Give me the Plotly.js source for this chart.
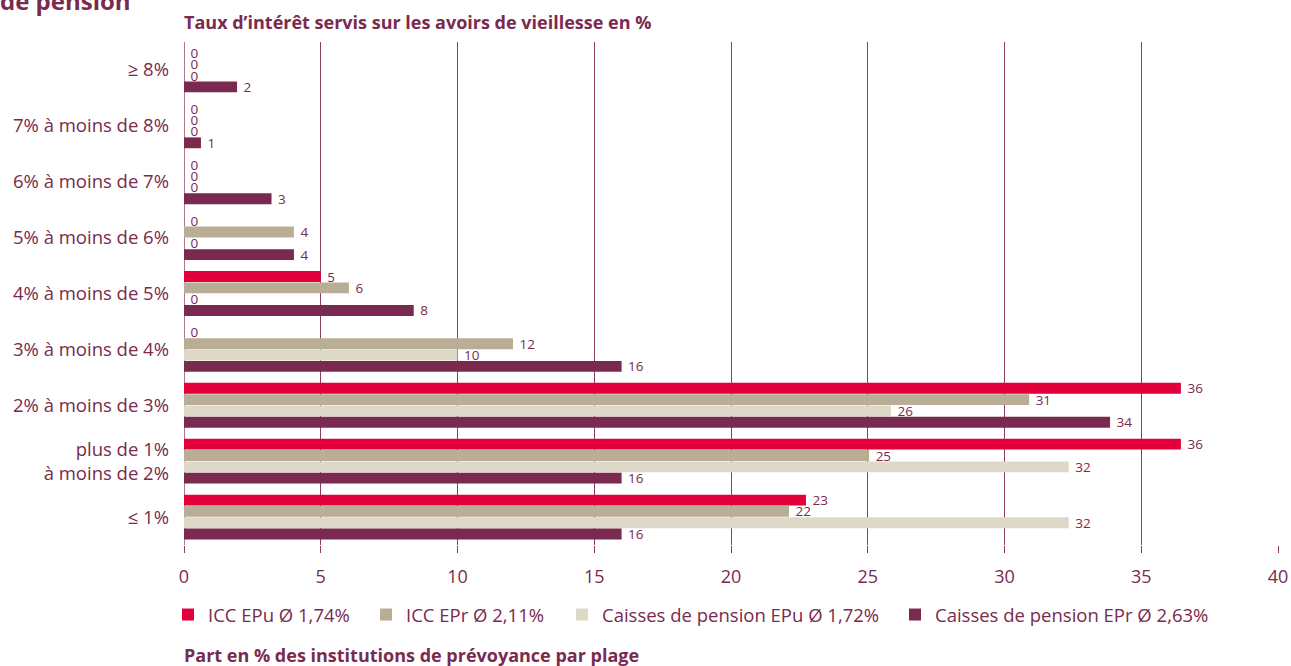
<!DOCTYPE html>
<html>
<head>
<meta charset="utf-8">
<script src="https://cdn.plot.ly/plotly-3.0.1.min.js"></script>
<style>html,body{margin:0;padding:0;background:#fff;}#chart{width:1291px;height:666px;}</style>
</head>
<body>
<div id="chart"></div>
<script>
const categories = ["≥ 8%", "7% à moins de 8%", "6% à moins de 7%", "5% à moins de 6%", "4% à moins de 5%", "3% à moins de 4%", "2% à moins de 3%", "plus de 1%<br>à moins de 2%", "≤ 1%"];
const seriesNames = ["ICC EPu Ø 1,74%", "ICC EPr Ø 2,11%", "Caisses de pension EPu Ø 1,72%", "Caisses de pension EPr Ø 2,63%"];
const iccEPu = [0, 0, 0, 0, 5.0, 0, 36.45, 36.45, 22.74];
const iccEPr = [0, 0, 0, 4.02, 6.03, 12.03, 30.9, 25.05, 22.12];
const cpEPu  = [0, 0, 0, 0, 0, 10.0, 25.85, 32.35, 32.35];
const cpEPr  = [1.94, 0.62, 3.2, 4.02, 8.4, 16.0, 33.86, 16.0, 16.0];
const xTicks = [0, 5, 10, 15, 20, 25, 30, 35, 40];
const colors = ["#e2003a", "#b9ad96", "#ddd8c8", "#7a2a4e"];
const textColor = "#7a2a4e";
const FONT = "Open Sans, sans-serif";

const plotLeft = 184, plotRight = 1278, plotTop = 42, plotBottom = 545;
const pw = plotRight - plotLeft, ph = plotBottom - plotTop;
const px = p => (p - plotLeft) / pw;
const py = p => (plotBottom - p) / ph;

// legend marker centre x positions (pixels)
const legendMarkerX = [188, 386, 582, 915];
const legendIds = ["legend", "legend2", "legend3", "legend4"];

const series = [iccEPu, iccEPr, cpEPu, cpEPr];
const traces = series.map((vals, i) => ({
  type: "bar",
  orientation: "h",
  name: seriesNames[i],
  legend: legendIds[i],
  y: categories,
  x: vals,
  marker: {color: colors[i], line: {width: 0}},
  texttemplate: "\u00a0%{x:.0f}",
  textposition: "outside",
  constraintext: "none",
  cliponaxis: false,
  textfont: {family: FONT, size: 13.5, color: textColor},
  hoverinfo: "x+y"
}));

const layout = {
  width: 1291, height: 666,
  margin: {l: plotLeft, r: 1291 - plotRight, t: plotTop, b: 666 - plotBottom},
  paper_bgcolor: "#fff", plot_bgcolor: "#fff",
  barmode: "group",
  bargap: 0.19,
  bargroupgap: 0.04,
  showlegend: true,
  font: {family: FONT, color: textColor, size: 19},
  xaxis: {
    range: [0, 40],
    tickvals: xTicks,
    ticktext: xTicks.map(String),
    showgrid: true, gridcolor: "#8a3d60", gridwidth: 1,
    zeroline: true, zerolinecolor: "#b07890", zerolinewidth: 1,
    ticks: "outside", ticklen: 7, tickcolor: "#8a3d60", tickwidth: 1,
    showline: false,
    tickfont: {family: FONT, size: 18, color: textColor},
    ticklabelstandoff: 8,
    fixedrange: true
  },
  yaxis: {
    type: "category",
    autorange: "reversed",
    showgrid: false, zeroline: false, showline: false,
    ticks: "",
    tickfont: {family: FONT, size: 18.5, color: textColor},
    ticklabelstandoff: 14,
    fixedrange: true
  },
  annotations: [
    {text: "<b>Taux d’intérêt servis sur les avoirs de vieillesse en %</b>", xref: "paper", yref: "paper",
     x: px(182), xanchor: "left", y: py(22), yanchor: "middle", showarrow: false,
     font: {family: FONT, size: 18, color: textColor}},
    {text: "<b>Part en % des institutions de prévoyance par plage</b>", xref: "paper", yref: "paper",
     x: px(182), xanchor: "left", y: py(655), yanchor: "middle", showarrow: false,
     font: {family: FONT, size: 18, color: textColor}},
    {text: "<b>de pension</b>", xref: "paper", yref: "paper",
     x: px(-2), xanchor: "left", y: py(1), yanchor: "middle", showarrow: false,
     font: {family: FONT, size: 24, color: textColor}}
  ]
};

legendIds.forEach((id, i) => {
  layout[id] = {
    orientation: "h",
    x: px(legendMarkerX[i] - 20), xanchor: "left",
    y: py(615), yanchor: "middle",
    font: {family: FONT, size: 18.5, color: textColor},
    itemwidth: 30,
    bgcolor: "rgba(0,0,0,0)",
    borderwidth: 0
  };
});

Plotly.newPlot("chart", traces, layout, {displayModeBar: false, staticPlot: true});
</script>
</body>
</html>
